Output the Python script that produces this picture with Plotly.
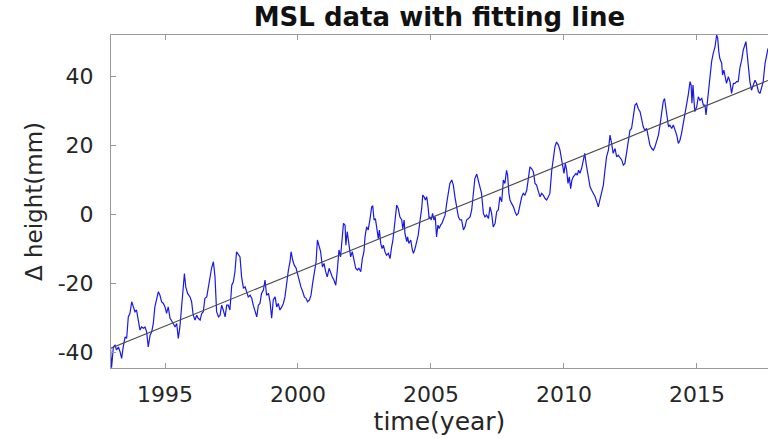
import numpy as np
import plotly.graph_objects as go

# ---------------- data ----------------
years = [
    1992.93, 1992.99, 1993.06, 1993.12, 1993.18, 1993.25, 1993.31, 1993.37, 1993.43, 1993.50,
    1993.56, 1993.62, 1993.68, 1993.75, 1993.81, 1993.87, 1993.93, 1994.00, 1994.06, 1994.12,
    1994.19, 1994.25, 1994.31, 1994.37, 1994.44, 1994.50, 1994.56, 1994.62, 1994.69, 1994.75,
    1994.81, 1994.87, 1994.94, 1995.00, 1995.06, 1995.12, 1995.19, 1995.25, 1995.31, 1995.38,
    1995.44, 1995.50, 1995.56, 1995.63, 1995.69, 1995.73, 1995.78, 1995.85, 1995.94, 1996.00,
    1996.06, 1996.13, 1996.19, 1996.25, 1996.32, 1996.38, 1996.44, 1996.50, 1996.57, 1996.63,
    1996.69, 1996.75, 1996.82, 1996.88, 1996.94, 1997.01, 1997.07, 1997.13, 1997.19, 1997.26,
    1997.32, 1997.38, 1997.44, 1997.51, 1997.57, 1997.63, 1997.69, 1997.76,
    1997.82, 1997.88, 1997.95, 1998.01, 1998.07, 1998.13, 1998.20, 1998.26, 1998.32, 1998.38,
    1998.45, 1998.51, 1998.57, 1998.63, 1998.70, 1998.76, 1998.82, 1998.89, 1998.95, 1999.01,
    1999.07, 1999.14, 1999.20, 1999.26, 1999.32, 1999.39, 1999.45, 1999.51, 1999.57, 1999.64,
    1999.70, 1999.74, 1999.80, 1999.86, 1999.93, 1999.99, 2000.05, 2000.11, 2000.18, 2000.24,
    2000.30, 2000.36, 2000.43, 2000.49, 2000.55, 2000.61, 2000.68, 2000.73, 2000.79, 2000.85,
    2000.92, 2000.98, 2001.04, 2001.10, 2001.17, 2001.23, 2001.29, 2001.35, 2001.42, 2001.48,
    2001.54, 2001.60, 2001.67, 2001.71, 2001.77, 2001.80, 2001.85, 2001.92, 2001.98, 2002.04,
    2002.11, 2002.17, 2002.23, 2002.29, 2002.36, 2002.42, 2002.48,
    2002.52, 2002.58, 2002.64, 2002.71, 2002.77, 2002.81, 2002.86, 2002.91, 2002.96, 2003.02,
    2003.06, 2003.11, 2003.16, 2003.21, 2003.27, 2003.33, 2003.40, 2003.46, 2003.52, 2003.56,
    2003.61, 2003.66, 2003.71, 2003.77, 2003.83, 2003.90, 2003.94, 2003.99, 2004.02, 2004.09,
    2004.12, 2004.17, 2004.24, 2004.30, 2004.34, 2004.40, 2004.46, 2004.52, 2004.59, 2004.65,
    2004.69, 2004.74, 2004.79, 2004.84, 2004.89, 2004.93, 2004.96, 2005.01, 2005.06, 2005.11,
    2005.16, 2005.21, 2005.26, 2005.31, 2005.36, 2005.41, 2005.46, 2005.53, 2005.59, 2005.65,
    2005.71, 2005.78, 2005.84, 2005.90, 2005.97, 2006.03, 2006.09, 2006.15, 2006.22, 2006.28,
    2006.34, 2006.40, 2006.47, 2006.53, 2006.59, 2006.65, 2006.72, 2006.78, 2006.84, 2006.90,
    2006.97, 2007.03, 2007.09, 2007.16,
    2007.22, 2007.28, 2007.34, 2007.41, 2007.47, 2007.53, 2007.59, 2007.66, 2007.72, 2007.78,
    2007.84, 2007.88, 2007.93, 2007.97, 2008.03, 2008.10, 2008.16, 2008.22, 2008.28, 2008.35,
    2008.41, 2008.47, 2008.53, 2008.60, 2008.66, 2008.72, 2008.78, 2008.85, 2008.91, 2008.97,
    2009.04, 2009.10, 2009.16, 2009.22, 2009.29, 2009.35, 2009.41, 2009.47, 2009.54, 2009.60,
    2009.66, 2009.72, 2009.79, 2009.85, 2009.91, 2009.95, 2010.00, 2010.05, 2010.10, 2010.15,
    2010.20, 2010.25, 2010.30, 2010.35, 2010.40, 2010.45, 2010.50, 2010.55, 2010.60, 2010.66,
    2010.73, 2010.78, 2010.83, 2010.88, 2010.93, 2010.98, 2011.04, 2011.10, 2011.17, 2011.23,
    2011.29, 2011.35, 2011.42, 2011.48, 2011.54, 2011.60, 2011.67, 2011.73, 2011.79, 2011.85,
    2011.92, 2011.98, 2012.04,
    2012.11, 2012.17, 2012.23, 2012.29, 2012.35, 2012.42, 2012.48, 2012.54, 2012.61, 2012.67,
    2012.73, 2012.79, 2012.86, 2012.92, 2012.98, 2013.04, 2013.11, 2013.17, 2013.23, 2013.30,
    2013.36, 2013.42, 2013.48, 2013.55, 2013.61, 2013.67, 2013.73, 2013.78, 2013.83, 2013.88,
    2013.93, 2013.98, 2014.05, 2014.11, 2014.17, 2014.24, 2014.30, 2014.36, 2014.42, 2014.49,
    2014.55, 2014.61, 2014.67, 2014.74, 2014.78, 2014.81, 2014.85, 2014.89, 2014.92, 2014.99,
    2015.05, 2015.11, 2015.18, 2015.24, 2015.30, 2015.34, 2015.39, 2015.44, 2015.49, 2015.55,
    2015.61, 2015.68, 2015.74, 2015.78, 2015.82, 2015.86, 2015.93, 2015.96, 2016.01, 2016.06,
    2016.11, 2016.18, 2016.24, 2016.30, 2016.37, 2016.43, 2016.49, 2016.55, 2016.62, 2016.68,
    2016.74, 2016.80, 2016.84, 2016.89, 2016.94, 2016.99, 2017.05, 2017.12, 2017.18, 2017.24,
    2017.31, 2017.37, 2017.43, 2017.49, 2017.56, 2017.62, 2017.67,
]

msl_mm = [
    -35.6, -44.5, -38.5, -38.0, -39.4, -38.5, -39.9, -41.8, -38.5, -35.6,
    -36.0, -29.8, -28.8, -25.4, -26.9, -28.3, -27.8, -31.7, -33.6, -32.7,
    -33.1, -32.7, -34.1, -38.5, -35.1, -34.1, -31.7, -26.9, -24.9, -22.5,
    -23.5, -25.4, -25.9, -26.9, -28.8, -26.9, -30.2, -31.2, -31.7, -32.7,
    -31.7, -36.0, -32.7, -26.4, -20.6, -17.2, -21.1, -23.0, -24.0, -25.4,
    -29.3, -30.7, -29.3, -30.2, -30.7, -28.8, -28.3, -24.4, -24.0, -21.1,
    -18.2, -15.7, -13.8, -18.2, -28.3, -29.8, -29.3, -26.4, -27.8, -29.8,
    -26.4, -26.4, -27.8, -20.6, -19.6, -16.7, -10.9, -11.9,
    -12.4, -18.2, -21.5, -21.1, -22.5, -24.0, -23.5, -24.4, -26.4, -27.8,
    -29.8, -26.4, -25.9, -23.0, -22.0, -19.1, -23.5, -23.0, -25.4, -30.2,
    -24.9, -24.0, -26.9, -25.9, -27.8, -26.9, -25.9, -24.0, -20.1, -16.2,
    -13.8, -10.9, -13.3, -14.8, -15.7, -17.7, -19.1, -21.1, -22.5, -24.0,
    -24.4, -25.4, -24.9, -23.5, -20.1, -17.2, -13.8, -7.5, -9.0, -10.9,
    -15.3, -14.3, -16.7, -18.2, -15.7, -17.2, -18.2, -19.1, -20.6, -16.2,
    -10.4, -12.4, -6.6, -2.7, -3.2, -9.0, -5.1, -9.5, -12.4, -10.9,
    -13.8, -15.7, -16.2, -15.7, -16.7, -12.9, -10.9,
    -6.6, -3.7, -4.6, -1.3, 2.1, 2.3, -1.7, -1.3, -3.7, -7.1,
    -4.6, -8.5, -10.0, -9.0, -10.9, -11.9, -11.4, -12.9, -9.5, -8.0,
    -4.6, -1.7, 2.6, 1.6, -0.8, -1.7, -4.2, -1.7, -5.6, -8.0,
    -6.6, -8.5, -7.5, -10.4, -11.4, -10.0, -7.5, -6.1, -1.7, 1.6,
    5.5, 5.0, 4.1, 5.0, 2.1, -1.3, -0.8, -1.7, 0.2, -1.7,
    -0.8, -6.6, -3.2, -4.2, -3.2, -2.7, -1.7, -0.3, 3.1, 6.5,
    8.9, 9.9, 8.4, 5.0, 2.1, -0.8, -1.7, -1.7, -4.6, -3.7,
    -1.7, -1.3, -0.8, 1.2, 6.0, 10.3, 11.6, 9.9, 8.4, 6.0,
    0.2, -0.8, -0.3, -1.3,
    2.1, 0.2, -3.7, -2.7, 0.7, 1.2, 5.0, 3.6, 9.9, 8.9,
    12.7, 11.3, 6.0, 4.1, 3.1, 2.1, 0.7, -0.3, 0.2, 3.1,
    5.0, 6.0, 5.5, 6.9, 10.3, 13.7, 13.2, 12.3, 8.9, 8.4,
    6.5, 5.0, 6.0, 5.5, 4.5, 4.1, 5.0, 6.0, 12.7, 16.6,
    19.5, 20.9, 20.0, 18.5, 15.7, 14.7, 11.8, 14.7, 12.7, 8.9,
    10.8, 7.4, 9.9, 10.8, 11.3, 11.8, 11.3, 12.7, 11.8, 13.2,
    15.7, 17.6, 14.7, 12.3, 9.9, 7.9, 6.9, 6.0, 5.0, 3.6,
    2.1, 4.1, 6.9, 8.4, 12.7, 16.6, 18.5, 22.9, 20.5, 17.6,
    19.0, 16.6, 17.1,
    16.1, 15.7, 14.2, 14.7, 17.6, 21.4, 24.3, 24.8, 28.7, 31.6,
    32.1, 30.6, 29.7, 27.7, 25.3, 24.3, 24.8, 22.4, 20.0, 19.0,
    18.5, 19.5, 21.4, 22.9, 25.8, 28.7, 32.6, 33.5, 30.6, 27.7,
    25.3, 25.8, 24.8, 25.8, 24.3, 22.9, 20.5, 21.4, 23.4, 26.3,
    29.7, 32.1, 34.5, 38.4, 37.4, 32.1, 37.4, 32.6, 29.7, 31.1,
    34.0, 33.0, 33.5, 31.6, 31.6, 28.7, 32.6, 35.5, 40.8, 44.2,
    46.6, 48.5, 51.9, 50.9, 47.1, 45.1, 43.7, 40.3, 41.7, 39.3,
    37.9, 39.8, 38.4, 35.0, 37.9, 37.9, 38.4, 38.4, 42.7, 44.6,
    47.5, 49.0, 50.0, 46.1, 41.7, 38.4, 35.9, 37.4, 38.8, 37.9,
    35.5, 35.0, 36.4, 38.4, 43.7, 46.1, 48.0,
]

x_tick_vals = [1995, 2000, 2005, 2010, 2015]
x_tick_text = ["1995", "2000", "2005", "2010", "2015"]
y_tick_vals = [-40, -20, 0, 20, 40]
y_tick_text = ["-40", "-20", "0", "20", "40"]

assert len(years) == len(msl_mm), (len(years), len(msl_mm))

# ---------------- linear fit ----------------
t = np.array(years)
h = np.array(msl_mm)
slope, intercept = np.polyfit(t, h, 1)
fit_x = np.array([t.min(), t.max()])
fit_y = slope * fit_x + intercept

FONT = "DejaVu Sans"
TXT = "#262626"
AX = "#9a9a9a"

fig = go.Figure()
fig.add_trace(go.Scatter(x=years, y=msl_mm, mode="lines",
                         line=dict(color="rgb(25,25,235)", width=1.2),
                         name="MSL", showlegend=False))
fig.add_trace(go.Scatter(x=fit_x, y=fit_y, mode="lines",
                         line=dict(color="#4a4a4a", width=1.1),
                         name="fit", showlegend=False))

fig.update_layout(
    width=768, height=439,
    margin=dict(l=111, r=0, t=35, b=71),
    paper_bgcolor="white", plot_bgcolor="white",
    title=dict(text="<b>MSL data with fitting line</b>",
               font=dict(family=FONT, size=26, color="#111"),
               x=0.5, xref="paper", xanchor="center",
               y=1 - 17 / 439, yref="container", yanchor="middle"),
    xaxis=dict(range=[1992.97, 2017.67], tickvals=x_tick_vals, ticktext=x_tick_text,
               ticks="inside", ticklen=5, tickcolor=AX, tickwidth=1,
               showline=True, linecolor=AX, linewidth=1, mirror="ticks",
               showgrid=False, zeroline=False, ticklabelstandoff=7,
               tickfont=dict(family=FONT, size=22, color=TXT),
               title=dict(text="time(year)", standoff=5,
                          font=dict(family=FONT, size=25, color=TXT))),
    yaxis=dict(range=[-44.6, 51.9], tickvals=y_tick_vals, ticktext=y_tick_text,
               ticks="inside", ticklen=5, tickcolor=AX, tickwidth=1,
               showline=True, linecolor=AX, linewidth=1, mirror=False,
               showgrid=False, zeroline=False, ticklabelstandoff=12,
               tickfont=dict(family=FONT, size=22, color=TXT),
               title=dict(text="Δ height(mm)", standoff=8,
                          font=dict(family=FONT, size=23, color=TXT))),
)

fig.write_html("out.html")
